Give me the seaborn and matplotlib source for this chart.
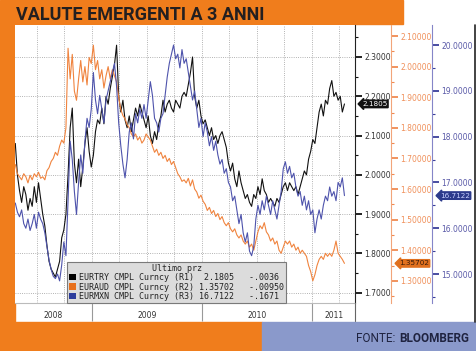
import numpy as np
import pandas as pd
import matplotlib
matplotlib.use("Agg")
import matplotlib.pyplot as plt
import matplotlib.dates as mdates
import matplotlib.transforms as mtransforms
from matplotlib.patches import Rectangle, Patch
from matplotlib.lines import Line2D
from matplotlib.ticker import MultipleLocator, FormatStrFormatter
import seaborn as sns

# --- data (weekly closes) ---
dates = pd.date_range("2008-04-21", periods=157, freq="7D")

eurtry = [2.08, 2.00, 1.96, 1.93, 1.97, 1.95, 1.91, 1.94, 1.92, 1.97,
          1.93, 1.98, 1.94, 1.90, 1.87, 1.82, 1.78, 1.76, 1.75, 1.74,
          1.76, 1.78, 1.84, 1.86, 1.90, 2.00, 2.12, 2.17, 2.03, 1.98,
          2.04, 1.97, 2.02, 2.08, 2.12, 2.06, 2.02, 2.05, 2.11, 2.14,
          2.13, 2.17, 2.13, 2.20, 2.18, 2.22, 2.25, 2.28, 2.33, 2.20,
          2.16, 2.19, 2.14, 2.12, 2.15, 2.11, 2.14, 2.17, 2.15, 2.18,
          2.16, 2.14, 2.12, 2.15, 2.10, 2.08, 2.11, 2.09, 2.13, 2.15,
          2.19, 2.16, 2.18, 2.19, 2.17, 2.16, 2.19, 2.18, 2.17, 2.20,
          2.21, 2.20, 2.23, 2.26, 2.30, 2.20, 2.17, 2.19, 2.15, 2.13,
          2.14, 2.12, 2.10, 2.12, 2.09, 2.10, 2.08, 2.10, 2.11, 2.09,
          2.07, 2.03, 2.01, 2.03, 1.99, 1.97, 2.01, 1.98, 1.96, 1.94,
          1.95, 1.93, 1.92, 1.95, 1.94, 1.97, 1.95, 1.99, 1.96, 1.95,
          1.93, 1.94, 1.93, 1.92, 1.94, 1.93, 1.95, 1.97, 1.98, 1.96,
          1.98, 1.97, 1.96, 1.97, 1.95, 1.97, 1.99, 2.01, 2.00, 2.04,
          2.06, 2.09, 2.08, 2.12, 2.16, 2.18, 2.15, 2.19, 2.18, 2.22,
          2.24, 2.20, 2.21, 2.19, 2.20, 2.16, 2.1805]

euraud = [1.68, 1.65, 1.64, 1.63, 1.65, 1.64, 1.62, 1.645, 1.63, 1.65,
          1.64, 1.655, 1.635, 1.64, 1.63, 1.66, 1.67, 1.69, 1.70, 1.72,
          1.71, 1.74, 1.76, 1.75, 1.80, 2.06, 1.96, 2.04, 1.92, 1.89,
          1.96, 2.02, 1.95, 2.00, 1.94, 2.03, 2.01, 2.07, 1.99, 2.02,
          1.96, 1.99, 1.93, 1.97, 2.00, 1.96, 1.99, 1.97, 1.95, 1.90,
          1.86, 1.84, 1.83, 1.81, 1.80, 1.78, 1.77, 1.78, 1.76, 1.77,
          1.75, 1.76, 1.78, 1.77, 1.76, 1.74, 1.72, 1.73, 1.71, 1.72,
          1.70, 1.71, 1.69, 1.70, 1.68, 1.69, 1.67, 1.65, 1.64, 1.625,
          1.63, 1.62, 1.635, 1.61, 1.63, 1.60, 1.59, 1.57, 1.58, 1.56,
          1.55, 1.53, 1.54, 1.52, 1.53, 1.51, 1.52, 1.50, 1.51, 1.49,
          1.48, 1.49, 1.47, 1.46, 1.47, 1.45, 1.44, 1.45, 1.43, 1.42,
          1.43, 1.41, 1.42, 1.40, 1.43, 1.46, 1.48, 1.47, 1.49, 1.46,
          1.45, 1.43, 1.44, 1.42, 1.43, 1.40, 1.39, 1.41, 1.43, 1.42,
          1.43, 1.41, 1.42, 1.40, 1.41, 1.39, 1.40, 1.39, 1.38, 1.35,
          1.33, 1.30, 1.32, 1.35, 1.37, 1.38, 1.37, 1.39, 1.38, 1.39,
          1.38, 1.40, 1.43, 1.39, 1.38, 1.37, 1.35702]

eurmxn = [16.55, 16.35, 16.25, 16.4, 16.1, 16.0, 16.2, 15.95, 16.1, 16.3,
          16.0, 16.35, 16.2, 16.1, 15.9, 15.6, 15.3, 15.1, 14.95, 14.9,
          15.0, 14.85, 15.2, 15.7, 15.4, 16.6, 17.9, 17.5, 16.8, 16.3,
          17.0, 17.6, 17.2, 17.9, 18.4, 18.2, 18.6, 19.4, 18.8, 18.5,
          18.9, 18.6, 18.3, 18.8, 19.0, 19.2, 19.4, 19.6, 19.1, 18.3,
          17.8, 17.4, 17.1, 17.5, 18.1, 18.3, 17.95, 18.5, 18.3, 18.6,
          18.4, 18.7, 18.4, 18.8, 19.2, 18.9, 18.4, 18.3, 18.1, 18.4,
          18.5, 18.9, 19.3, 19.6, 19.8, 20.0, 19.7, 19.8, 19.5, 19.9,
          19.6, 19.7, 19.4, 19.1, 18.8, 19.0, 18.6, 18.2, 18.4, 18.0,
          18.3, 18.1, 17.8, 18.0, 17.7, 17.9, 17.6, 17.4, 17.5, 17.2,
          17.3, 17.0, 16.9, 16.6, 16.7, 16.4, 16.1, 16.3, 15.9, 15.7,
          15.9, 15.5, 15.4, 15.6, 16.2, 16.5, 16.3, 16.6, 16.4, 16.7,
          16.5, 16.3, 16.6, 16.4, 16.2, 16.5, 16.8, 17.3, 17.45, 17.2,
          17.35, 17.1, 17.2, 16.9, 16.7, 16.8, 16.5, 16.7, 16.4, 16.6,
          16.3, 16.4, 15.9, 16.2, 16.4, 16.2, 16.5, 16.7, 16.6, 16.9,
          16.7, 16.8, 16.6, 17.0, 16.9, 17.1, 16.7122]

names = ["EURTRY CMPL Curncy", "EURAUD CMPL Curncy", "EURMXN CMPL Curncy"]
axis_ids = ["R1", "R2", "R3"]
last_txt = ["2.1805", "1.35702", "16.7122"]
change_txt = ["-.0036", "-.00950", "-.1671"]
year_labels = ["2008", "2009", "2010", "2011"]

df = pd.DataFrame({"date": dates, "EURTRY": eurtry, "EURAUD": euraud, "EURMXN": eurmxn})

# colours
ORANGE_BG = "#f07d1c"
BLUE_BG = "#8a99cb"
C_TRY = "#111111"
C_AUD = "#f0843f"
C_MXN = "#4e53ac"

sns.set_style("white")
plt.rcParams["font.family"] = ["DejaVu Sans"]
HEAD = ["Roboto", "DejaVu Sans"]

W, H = 476, 351
fig = plt.figure(figsize=(W / 100, H / 100), dpi=100)


def fx(px):
    return px / W


def fy(py):
    return 1 - py / H


# page decorations
fig.add_artist(Rectangle((0, fy(24)), fx(403), 24 / H, transform=fig.transFigure,
                         color=ORANGE_BG, zorder=0))
fig.add_artist(Rectangle((0, fy(322)), fx(14.5), fy(24) - fy(322), transform=fig.transFigure,
                         color=ORANGE_BG, zorder=0))
fig.add_artist(Rectangle((0, 0), fx(262), 29 / H, transform=fig.transFigure,
                         color=ORANGE_BG, zorder=0))
fig.add_artist(Rectangle((fx(262), 0), fx(W - 262), 29 / H, transform=fig.transFigure,
                         color=BLUE_BG, zorder=0))
fig.add_artist(Line2D([fx(474.5)] * 2, [fy(25), fy(322)], color="#222222", lw=1.2))
fig.add_artist(Line2D([fx(355)] * 2, [fy(303), fy(321)], color="#666666", lw=0.8))

fig.text(fx(16), fy(20.5), "VALUTE EMERGENTI A 3 ANNI", fontsize=13, weight="bold",
         family=HEAD, color="#231f20", va="baseline")

# axes
ax = fig.add_axes([fx(15), fy(303), fx(340), 278 / H])
ax2 = ax.twinx()
ax3 = ax.twinx()

sns.lineplot(data=df, x="date", y="EURTRY", ax=ax, color=C_TRY, lw=0.8, errorbar=None)
sns.lineplot(data=df, x="date", y="EURAUD", ax=ax2, color=C_AUD, lw=0.8, errorbar=None)
sns.lineplot(data=df, x="date", y="EURMXN", ax=ax3, color=C_MXN, lw=0.8, errorbar=None)

for a in (ax, ax2, ax3):
    a.set_xlabel("")
    a.set_ylabel("")

ax.set_xlim(pd.Timestamp("2008-04-20"), pd.Timestamp("2011-05-23"))
ax.set_ylim(1.674, 2.3814)
ax2.set_ylim(1.2275, 2.136)
ax3.set_ylim(14.367, 20.437)

ax.yaxis.tick_right()
for s in ("left", "top"):
    ax.spines[s].set_visible(False)
ax.spines["right"].set_color("#222222")
ax.spines["right"].set_linewidth(0.8)
ax.spines["bottom"].set_color("#bbbbbb")
ax.spines["bottom"].set_linewidth(0.8)

for a, pos, col in ((ax2, 391, "#f2a57a"), (ax3, 432, "#8585c8")):
    for s in ("left", "top", "bottom"):
        a.spines[s].set_visible(False)
    a.spines["right"].set_position(("axes", (pos - 15) / 340))
    a.spines["right"].set_color(col)
    a.spines["right"].set_linewidth(0.8)

# y ticks
ax.yaxis.set_major_locator(MultipleLocator(0.1))
ax.yaxis.set_minor_locator(MultipleLocator(0.05))
ax.yaxis.set_major_formatter(FormatStrFormatter("%.4f"))
ax2.yaxis.set_major_locator(MultipleLocator(0.1))
ax2.yaxis.set_minor_locator(MultipleLocator(0.05))
ax2.yaxis.set_major_formatter(FormatStrFormatter("%.5f"))
ax3.yaxis.set_major_locator(MultipleLocator(1))
ax3.yaxis.set_minor_locator(MultipleLocator(0.5))
ax3.yaxis.set_major_formatter(FormatStrFormatter("%.4f"))

for a, tc, lc in ((ax, "#111111", "#333333"), (ax2, "#f08a50", "#f0905a"), (ax3, "#3a3f9a", "#5a5aa8")):
    a.tick_params(axis="y", which="major", direction="out", length=5, width=1.3,
                  color=tc, labelcolor=lc, labelsize=5.5, pad=1.5)
    a.tick_params(axis="y", which="minor", direction="out", length=2.5, width=0.8, color=tc)

# x ticks: quarterly grid, monthly minor marks
ax.xaxis.set_major_locator(mdates.MonthLocator(bymonth=[1, 4, 7, 10]))
ax.xaxis.set_minor_locator(mdates.MonthLocator())
ax.tick_params(axis="x", which="major", length=0, labelbottom=False)
ax.tick_params(axis="x", which="minor", length=2, direction="in", color="#999999")
ax.grid(True, which="major", axis="both", ls=":", color="#9a9a9a", lw=0.6)
ax.set_axisbelow(True)

# year separators and labels
x0, x1 = ax.get_xlim()
bounds = [mdates.date2num(pd.Timestamp(f"{y}-01-01")) for y in (2009, 2010, 2011)]
edges = [x0] + bounds + [x1]
mids = [(edges[i] + edges[i + 1]) / 2 for i in range(len(year_labels))]
sec = ax.secondary_xaxis("bottom")
sec.set_xticks(bounds)
sec.set_xticks(mids, labels=year_labels, minor=True)
sec.tick_params(which="major", length=13, width=0.8, color="#999999", labelbottom=False)
sec.tick_params(which="minor", length=0, pad=6, labelsize=5.5, labelcolor="#333333")
sec.spines["bottom"].set_visible(False)

# legend
rows = [f"{n} ({r}) {v:>7}   {c}" for n, r, v, c in zip(names, axis_ids, last_txt, change_txt)]
handles = [Patch(fc=c, ec="none") for c in ("#000000", "#e8701c", "#2c3c9c")]
leg = ax3.legend(handles, rows, title="Ultimo prz", loc="lower left",
                 bbox_to_anchor=((67 - 15) / 340, 0.0), borderaxespad=0,
                 prop={"family": "DejaVu Sans Mono", "size": 6},
                 title_fontproperties={"family": "DejaVu Sans Mono", "size": 6},
                 frameon=True, fancybox=False, handlelength=0.8, handleheight=0.8,
                 handletextpad=0.4, labelspacing=0.05, borderpad=0.25)
leg.get_frame().set_facecolor("#dcdcdc")
leg.get_frame().set_edgecolor("#7a7a7a")
leg.get_frame().set_linewidth(0.8)
leg.get_frame().set_alpha(1)
for t in leg.get_texts():
    t.set_color("#222222")

# last-value tags on each scale
for a, px, txt, val, fc, tc in ((ax, 362, last_txt[0], eurtry[-1], "#111111", "#ffffff"),
                                (ax2, 399, last_txt[1], euraud[-1], "#e0701e", "#3a1a08"),
                                (ax3, 440, last_txt[2], eurmxn[-1], "#2c3a8c", "#c8d0ff")):
    tr = mtransforms.blended_transform_factory(fig.transFigure, a.transData)
    ax3.text(fx(px), val, txt, transform=tr, ha="left", va="center", fontsize=5.2,
             color=tc, clip_on=False, zorder=10,
             bbox=dict(boxstyle="larrow,pad=0.1", fc=fc, ec=fc))

# source
bloom = fig.text(fx(469), fy(338), "BLOOMBERG", ha="right", va="center", fontsize=8.5,
                 weight="bold", family=HEAD, color="#1f2340")
ax.annotate("FONTE:", xy=(0, 0.5), xycoords=bloom, xytext=(-2.5, 0), textcoords="offset points",
            ha="right", va="center", fontsize=8.5, family=HEAD, color="#1f2340",
            annotation_clip=False)

fig.savefig("out.png", dpi=100)
